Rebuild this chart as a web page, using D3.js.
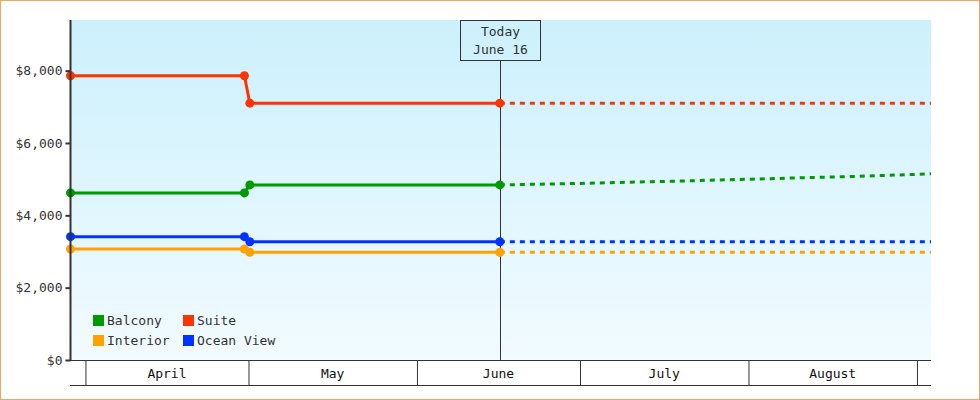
<!DOCTYPE html>
<html>
<head>
<meta charset="utf-8">
<script src="https://cdn.jsdelivr.net/npm/d3@7"></script>
<style>
  body { margin: 0; background: #fff; }
  svg { display: block; font-family: "DejaVu Sans Mono", monospace; font-size: 13px; }
</style>
</head>
<body>
<div id="chart"></div>
<script>
const kWidth = 980;
const kHeight = 400;
const kLeft = 70.5;
const kRight = 931;
const kTop = 20;
const kBottom = 360;
const kAxisBand = 25;

// data
const domainDates = ["2023-03-29T06:00", "2023-09-03T14:00"];
const monthStarts = ["2023-04-01", "2023-05-01", "2023-06-01", "2023-07-01", "2023-08-01", "2023-09-01"];
const monthLabels = ["April", "May", "June", "July", "August"];
const yTicks = [0, 2000, 4000, 6000, 8000];
const yMax = 9400;

const historyDates = ["2023-03-29T06:00", "2023-04-30T06:00", "2023-05-01T06:00", "2023-06-16T06:00"];
const balconyHistory = [4620, 4620, 4840, 4840];
const suiteHistory = [7860, 7860, 7100, 7100];
const interiorHistory = [3070, 3070, 2980, 2980];
const oceanHistory = [3410, 3410, 3270, 3270];

const projDates = ["2023-06-16T06:00", "2023-06-23T06:00", "2023-06-30T06:00", "2023-07-07T06:00",
  "2023-07-14T06:00", "2023-07-21T06:00", "2023-07-28T06:00", "2023-08-04T06:00", "2023-08-11T06:00",
  "2023-08-18T06:00", "2023-08-25T06:00", "2023-09-01T06:00", "2023-09-03T14:00"];
const balconyProj = [4840, 4860, 4880, 4905, 4930, 4955, 4985, 5010, 5040, 5065, 5100, 5135, 5148];
const suiteProj = [7100, 7100, 7100, 7100, 7100, 7100, 7100, 7100, 7100, 7100, 7100, 7100, 7100];
const interiorProj = [2980, 2980, 2980, 2980, 2980, 2980, 2980, 2980, 2980, 2980, 2980, 2980, 2980];
const oceanProj = [3270, 3270, 3270, 3270, 3270, 3270, 3270, 3270, 3270, 3270, 3270, 3270, 3270];

const seriesNames = ["Balcony", "Suite", "Interior", "Ocean View"];
const seriesColors = ["#009900", "#ff3300", "#ffa200", "#0033ff"];
const histories = [balconyHistory, suiteHistory, interiorHistory, oceanHistory];
const projections = [balconyProj, suiteProj, interiorProj, oceanProj];

const todayDate = "2023-06-16T06:00";
const todayLines = ["Today", "June 16"];

const parse = d3.utcParse("%Y-%m-%dT%H:%M");
const parseDay = d3.utcParse("%Y-%m-%d");

const svg = d3.select("#chart")
  .append("svg")
  .attr("width", kWidth)
  .attr("height", kHeight);

const defs = svg.append("defs");
const grad = defs.append("linearGradient")
  .attr("id", "bg")
  .attr("x1", 0).attr("y1", 0).attr("x2", 0).attr("y2", 1);
grad.append("stop").attr("offset", "0%").attr("stop-color", "#ccf0fc");
grad.append("stop").attr("offset", "100%").attr("stop-color", "#f2fbff");

// page frame
svg.append("rect")
  .attr("x", 0.5).attr("y", 0.5)
  .attr("width", kWidth - 1).attr("height", kHeight - 1)
  .attr("fill", "none")
  .attr("stroke", "#e9a964");

const x = d3.scaleUtc()
  .domain(domainDates.map(parse))
  .range([kLeft, kRight]);

const y = d3.scaleLinear()
  .domain([0, yMax])
  .range([kBottom, kTop]);

svg.append("rect")
  .attr("x", kLeft)
  .attr("y", kTop)
  .attr("width", kRight - kLeft)
  .attr("height", kBottom - kTop)
  .attr("fill", "url(#bg)");

// legend
const legend = svg.append("g").attr("transform", "translate(93, 315)");
seriesNames.forEach((name, i) => {
  const g = legend.append("g")
    .attr("transform", `translate(${(i % 2) * 90}, ${Math.floor(i / 2) * 20})`);
  g.append("rect")
    .attr("width", 11).attr("height", 11)
    .attr("fill", seriesColors[i]);
  g.append("text")
    .attr("x", 14).attr("y", 10)
    .attr("fill", "#333")
    .text(name);
});

// today marker
const tx = Math.round(x(parse(todayDate))) + 0.5;
svg.append("line")
  .attr("x1", tx).attr("x2", tx)
  .attr("y1", kTop + 40).attr("y2", kBottom)
  .attr("stroke", "#333").attr("stroke-width", 1);
svg.append("rect")
  .attr("x", tx - 40).attr("y", kTop + 0.5)
  .attr("width", 80).attr("height", 40)
  .attr("fill", "none")
  .attr("stroke", "#333");
todayLines.forEach((t, i) => {
  svg.append("text")
    .attr("x", tx).attr("y", kTop + 16 + i * 18)
    .attr("text-anchor", "middle")
    .attr("fill", "#333")
    .text(t);
});

// series
const line = d3.line()
  .x(d => x(d[0]))
  .y(d => y(d[1]));

seriesNames.forEach((name, i) => {
  const hist = historyDates.map((d, j) => [parse(d), histories[i][j]]);
  const proj = projDates.map((d, j) => [parse(d), projections[i][j]]);
  svg.append("path")
    .datum(proj)
    .attr("d", line)
    .attr("fill", "none")
    .attr("stroke", seriesColors[i])
    .attr("stroke-width", 3)
    .attr("stroke-dasharray", "5,5");
  svg.append("path")
    .datum(hist)
    .attr("d", line)
    .attr("fill", "none")
    .attr("stroke", seriesColors[i])
    .attr("stroke-width", 3);
  svg.selectAll(null)
    .data(hist)
    .enter()
    .append("circle")
    .attr("cx", d => x(d[0]))
    .attr("cy", d => y(d[1]))
    .attr("r", 4.5)
    .attr("fill", seriesColors[i]);
});

// x axis: month bands
const months = monthStarts.map(parseDay);
const xAxis = d3.axisBottom(x)
  .tickValues(months)
  .tickSize(kAxisBand)
  .tickFormat("");
const gx = svg.append("g")
  .attr("transform", `translate(0, ${kBottom})`)
  .call(xAxis)
  .attr("font-family", null)
  .attr("font-size", null);
gx.select(".domain").remove();
gx.selectAll(".tick line").attr("stroke", "#333");
gx.append("line")
  .attr("x1", kLeft - 0.5).attr("x2", kRight)
  .attr("y1", 0.5).attr("y2", 0.5)
  .attr("stroke", "#333");
gx.append("line")
  .attr("x1", kLeft - 0.5).attr("x2", kRight)
  .attr("y1", kAxisBand + 0.5).attr("y2", kAxisBand + 0.5)
  .attr("stroke", "#333");
monthLabels.forEach((m, i) => {
  gx.append("text")
    .attr("x", (x(months[i]) + x(months[i + 1])) / 2)
    .attr("y", 18)
    .attr("text-anchor", "middle")
    .attr("fill", "#111")
    .text(m);
});

// y axis
const yAxis = d3.axisLeft(y)
  .tickValues(yTicks)
  .tickSize(5)
  .tickPadding(3)
  .tickFormat(d3.format("$,"));
const gy = svg.append("g")
  .attr("transform", `translate(${kLeft}, 0)`)
  .call(yAxis)
  .attr("font-family", null)
  .attr("font-size", null);
gy.select(".domain")
  .attr("stroke", "#333")
  .attr("stroke-width", 2)
  .attr("d", `M0,${kTop}V${kBottom + 1}`);
gy.selectAll(".tick line").attr("stroke", "#333").attr("stroke-width", 2);
gy.selectAll(".tick text").attr("fill", "#333");
</script>
</body>
</html>
